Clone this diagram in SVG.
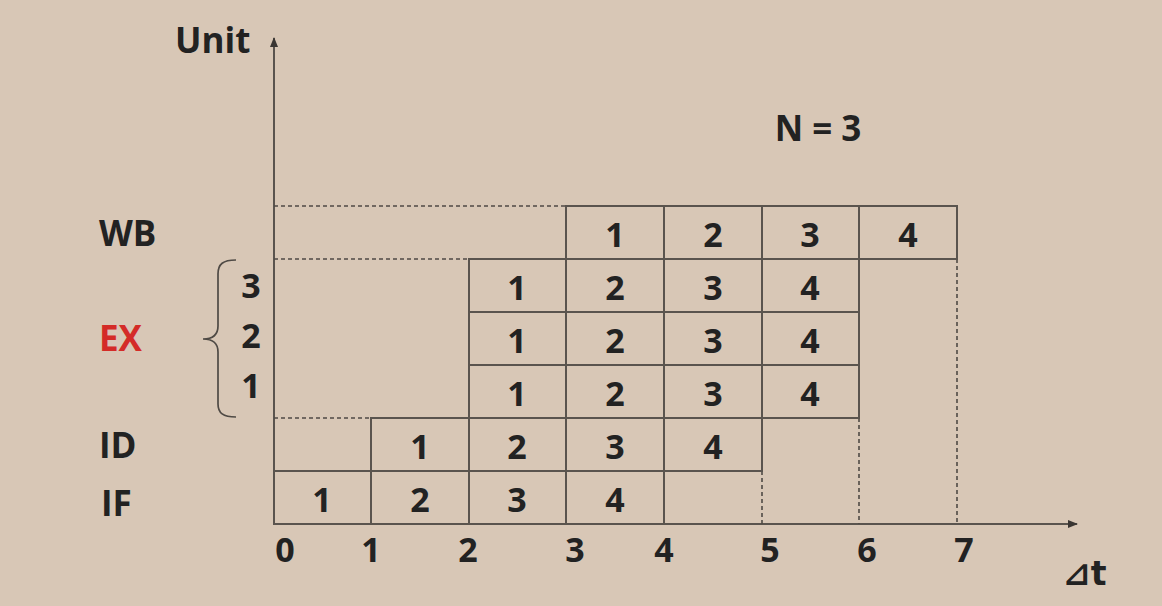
<svg xmlns="http://www.w3.org/2000/svg" width="1162" height="606" viewBox="0 0 1162 606">
<style>
.t{font-family:"Open Sans","Liberation Sans",sans-serif;font-weight:700;fill:#222;}
.c{font-size:34px;text-anchor:middle;}
.lbl{font-size:35px;}
.cell{fill:none;stroke:#5a544e;stroke-width:2;}
.dash{fill:none;stroke:#4f4a45;stroke-width:1.6;stroke-dasharray:4 3;}
.axis{fill:none;stroke:#5a544e;stroke-width:2;}
</style>
<defs>
<marker id="ah" markerWidth="10" markerHeight="10" refX="9" refY="5" orient="auto" markerUnits="userSpaceOnUse">
<path d="M0,1 L10,5 L0,9 Z" fill="#3a3633"/>
</marker>
</defs>
<rect width="1162" height="606" fill="#d8c7b6"/>

<g id="connectors">
<line class="axis" x1="274" y1="524" x2="274" y2="38" marker-end="url(#ah)"/>
<line class="axis" x1="273" y1="524" x2="1077" y2="524" marker-end="url(#ah)"/>
<line class="dash" x1="274" y1="206" x2="566" y2="206"/>
<line class="dash" x1="274" y1="259" x2="469" y2="259"/>
<line class="dash" x1="274" y1="418" x2="371" y2="418"/>
<line class="dash" x1="762" y1="471" x2="762" y2="524"/>
<line class="dash" x1="859" y1="418" x2="859" y2="524"/>
<line class="dash" x1="957" y1="259" x2="957" y2="524"/>
<path d="M236,260 C223,260 218,264 218,274 L218,326 C218,334 213,339 203,339 C213,339 218,344 218,352 L218,404 C218,413 223,417 236,417" fill="none" stroke="#4f4a45" stroke-width="1.7"/>
</g>

<g id="row-WB">
<rect class="cell" x="566" y="206" width="98" height="53"/>
<rect class="cell" x="664" y="206" width="98" height="53"/>
<rect class="cell" x="762" y="206" width="97" height="53"/>
<rect class="cell" x="859" y="206" width="98" height="53"/>
<text class="t c" x="615" y="247">1</text>
<text class="t c" x="713" y="247">2</text>
<text class="t c" x="810" y="247">3</text>
<text class="t c" x="908" y="247">4</text>
</g>

<g id="row-EX3">
<rect class="cell" x="469" y="259" width="97" height="53"/>
<rect class="cell" x="566" y="259" width="98" height="53"/>
<rect class="cell" x="664" y="259" width="98" height="53"/>
<rect class="cell" x="762" y="259" width="97" height="53"/>
<text class="t c" x="517" y="300">1</text>
<text class="t c" x="615" y="300">2</text>
<text class="t c" x="713" y="300">3</text>
<text class="t c" x="810" y="300">4</text>
</g>

<g id="row-EX2">
<rect class="cell" x="469" y="312" width="97" height="53"/>
<rect class="cell" x="566" y="312" width="98" height="53"/>
<rect class="cell" x="664" y="312" width="98" height="53"/>
<rect class="cell" x="762" y="312" width="97" height="53"/>
<text class="t c" x="517" y="353">1</text>
<text class="t c" x="615" y="353">2</text>
<text class="t c" x="713" y="353">3</text>
<text class="t c" x="810" y="353">4</text>
</g>

<g id="row-EX1">
<rect class="cell" x="469" y="365" width="97" height="53"/>
<rect class="cell" x="566" y="365" width="98" height="53"/>
<rect class="cell" x="664" y="365" width="98" height="53"/>
<rect class="cell" x="762" y="365" width="97" height="53"/>
<text class="t c" x="517" y="406">1</text>
<text class="t c" x="615" y="406">2</text>
<text class="t c" x="713" y="406">3</text>
<text class="t c" x="810" y="406">4</text>
</g>

<g id="row-ID">
<rect class="cell" x="371" y="418" width="98" height="53"/>
<rect class="cell" x="469" y="418" width="97" height="53"/>
<rect class="cell" x="566" y="418" width="98" height="53"/>
<rect class="cell" x="664" y="418" width="98" height="53"/>
<text class="t c" x="420" y="459">1</text>
<text class="t c" x="517" y="459">2</text>
<text class="t c" x="615" y="459">3</text>
<text class="t c" x="713" y="459">4</text>
</g>

<g id="row-IF">
<rect class="cell" x="274" y="471" width="97" height="53"/>
<rect class="cell" x="371" y="471" width="98" height="53"/>
<rect class="cell" x="469" y="471" width="97" height="53"/>
<rect class="cell" x="566" y="471" width="98" height="53"/>
<text class="t c" x="322" y="512">1</text>
<text class="t c" x="420" y="512">2</text>
<text class="t c" x="517" y="512">3</text>
<text class="t c" x="615" y="512">4</text>
</g>

<g id="labels">
<text class="t" x="175" y="53" font-size="35">Unit</text>
<text class="t" x="818" y="141" font-size="35" text-anchor="middle">N = 3</text>
<text class="t lbl" x="99" y="246">WB</text>
<text class="t lbl" x="99" y="351" style="fill:#d42b27">EX</text>
<text class="t lbl" x="99" y="458">ID</text>
<text class="t lbl" x="101" y="516">IF</text>
<text class="t c" x="251" y="298">3</text>
<text class="t c" x="251" y="348">2</text>
<text class="t c" x="251" y="398">1</text>
</g>

<g id="ticks">
<text class="t c" x="285" y="562">0</text>
<text class="t c" x="371" y="562">1</text>
<text class="t c" x="468" y="562">2</text>
<text class="t c" x="575" y="562">3</text>
<text class="t c" x="664" y="562">4</text>
<text class="t c" x="770" y="562">5</text>
<text class="t c" x="867" y="562">6</text>
<text class="t c" x="964" y="562">7</text>
<text x="1063" y="585" font-family="DejaVu Sans,sans-serif" font-weight="700" font-size="33" fill="#222">⊿t</text>
</g>
</svg>
